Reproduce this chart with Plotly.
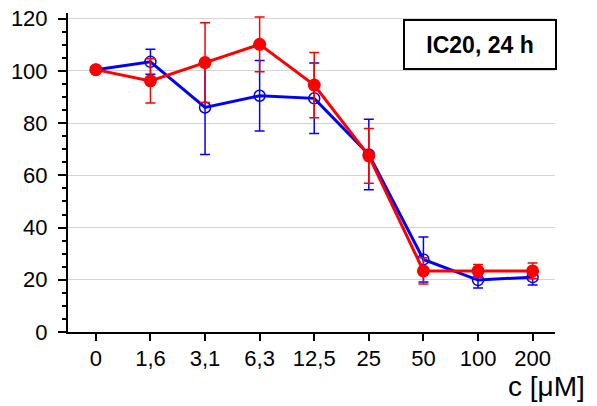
import plotly.graph_objects as go

categories = ["0", "1,6", "3,1", "6,3", "12,5", "25", "50", "100", "200"]
blue_values = [100.5, 103.5, 86.0, 90.5, 89.5, 68.0, 27.8, 19.9, 21.0]
blue_errors = [0.0, 4.8, 18.0, 13.5, 13.5, 13.5, 8.6, 3.0, 3.0]
red_values = [100.5, 96.2, 103.2, 110.2, 94.6, 67.5, 23.4, 23.4, 23.4]
red_errors = [0.0, 8.5, 15.3, 10.5, 12.5, 10.5, 5.0, 2.5, 3.0]
y_ticks = [0, 20, 40, 60, 80, 100, 120]

FONT = "Liberation Sans, Arial, sans-serif"

fig = go.Figure()
fig.add_trace(go.Scatter(
    x=categories, y=blue_values, mode="lines+markers",
    line=dict(color="#0000ff", width=3),
    marker=dict(symbol="circle-open", size=11, color="#0000ff", line=dict(width=1.5, color="#0000ff")),
    error_y=dict(type="data", array=blue_errors, visible=True, color="#0000ff", thickness=1.5, width=5),
    showlegend=False,
))
fig.add_trace(go.Scatter(
    x=categories, y=red_values, mode="lines+markers",
    line=dict(color="#ff0000", width=3),
    marker=dict(symbol="circle", size=13, color="#ff0000"),
    error_y=dict(type="data", array=red_errors, visible=True, color="#ff0000", thickness=1.5, width=5),
    showlegend=False,
))

fig.update_layout(
    width=597, height=406,
    margin=dict(l=68, r=42, t=13, b=74, autoexpand=False),
    paper_bgcolor="white", plot_bgcolor="white",
    font=dict(family=FONT, size=22, color="black"),
    xaxis=dict(
        type="category", range=[-0.51, 8.41], automargin=False,
        showline=True, linecolor="black", linewidth=2,
        ticks="outside", ticklen=7, tickwidth=1.5, tickcolor="black",
        showgrid=False, zeroline=False,
        tickfont=dict(size=22),
        ticklabelstandoff=-1,
    ),
    yaxis=dict(
        range=[0, 122.2], tickvals=y_ticks, automargin=False,
        showline=True, linecolor="black", linewidth=2,
        ticks="outside", ticklen=8, tickwidth=1.5, tickcolor="black",
        minor=dict(dtick=5, tick0=0, ticks="outside", ticklen=4, tickwidth=1.5, tickcolor="black", showgrid=False),
        showgrid=True, gridcolor="#d3d3d3", gridwidth=1,
        zeroline=False,
        tickfont=dict(size=22),
        ticklabelstandoff=6,
    ),
    annotations=[
        dict(text="c [μM]", xref="paper", yref="paper", x=1.066, y=-0.172,
             xanchor="right", yanchor="middle", showarrow=False,
             font=dict(size=28, family=FONT)),
        dict(text="<b>IC20, 24 h</b>", xref="paper", yref="paper", x=0.846, y=0.901,
             xanchor="center", yanchor="middle", showarrow=False,
             width=148, height=45, borderpad=1,
             bordercolor="black", borderwidth=2, bgcolor="white",
             font=dict(size=23, family=FONT)),
    ],
)

fig.write_html("out.html", config={"displayModeBar": False},
               post_script="document.body.style.margin='0';document.body.style.overflow='hidden';")
